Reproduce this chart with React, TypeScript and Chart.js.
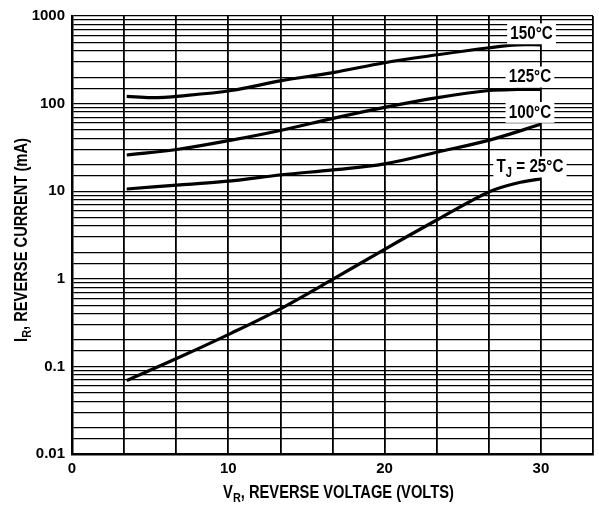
import React, { useEffect, useRef } from "react";
import { Chart, registerables } from "chart.js";

Chart.register(...registerables);

// X axis (reverse voltage, volts)
const xTickLabels = [0, 10, 20, 30];
const xGridDivisions = 10; // vertical grid lines every 10/3 V
const xMax = 100 / 3;

// Y axis (reverse current, mA), logarithmic
const yTickLabels = ["0.01", "0.1", "1", "10", "100", "1000"];
const yDecades = [0.01, 0.1, 1, 10, 100];
const yMantissas = [1, 1.5, 2, 3, 4, 5, 6, 7, 8, 9];

// Curves
const vr150 = [3.5, 5.1, 6.9, 10.2, 13.4, 16.7, 20.0, 23.4, 26.7, 28.5, 30];
const ir150 = [121, 117, 122, 141, 183, 226, 293, 361, 434, 469, 469];

const vr125 = [3.5, 6.9, 10.2, 13.4, 16.7, 20.0, 23.4, 26.7, 28.5, 30];
const ir125 = [25.9, 30.3, 38.3, 49.7, 67.9, 90.6, 117, 141, 145, 145];

const vr100 = [3.5, 6.9, 10.2, 13.4, 16.7, 20.0, 23.4, 26.7, 30];
const ir100 = [10.6, 11.8, 13.1, 15.4, 17.5, 20.5, 28, 38.3, 58];

const vr25 = [3.5, 6.9, 10.2, 13.4, 16.7, 20.0, 23.4, 26.7, 28.5, 30];
const ir25 = [0.069, 0.128, 0.24, 0.46, 0.99, 2.17, 4.75, 9.84, 12.4, 13.8];

// Curve labels (text, subscript part, anchor in data units)
const curveLabelParts = [
  [{ t: "150°C" }],
  [{ t: "125°C" }],
  [{ t: "100°C" }],
  [{ t: "T" }, { t: "J", sub: true }, { t: " = 25°C" }],
];
const curveLabelVR = [29.4, 29.3, 29.3, 29.3];
const curveLabelIR = [626, 201, 79.4, 18.9];

const FONT = "'Liberation Sans', Arial, sans-serif";

type Part = { t: string; sub?: boolean };

function drawRich(
  ctx: CanvasRenderingContext2D,
  parts: Part[],
  cx: number,
  cy: number,
  size: number,
  hScale: number,
  box: boolean
) {
  const main = `bold ${size}px ${FONT}`;
  const small = `bold ${Math.round(size * 0.75)}px ${FONT}`;
  let total = 0;
  const widths = parts.map((p) => {
    ctx.font = p.sub ? small : main;
    const w = ctx.measureText(p.t).width;
    total += w;
    return w;
  });
  ctx.save();
  ctx.translate(cx, cy);
  ctx.scale(hScale, 1);
  let x = -total / 2;
  if (box) {
    ctx.fillStyle = "#ffffff";
    ctx.fillRect(x - 4, -size * 0.55, total + 8, size * 1.1);
  }
  ctx.fillStyle = "#000000";
  ctx.textBaseline = "middle";
  ctx.textAlign = "left";
  parts.forEach((p, i) => {
    ctx.font = p.sub ? small : main;
    ctx.fillText(p.t, x, p.sub ? size * 0.3 : 0);
    x += widths[i];
  });
  ctx.restore();
}

const labelsPlugin = {
  id: "curveLabels",
  afterDatasetsDraw(chart: any) {
    const ctx = chart.ctx as CanvasRenderingContext2D;
    const xs = chart.scales.x;
    const ys = chart.scales.y;
    ctx.save();
    curveLabelParts.forEach((parts, i) => {
      drawRich(
        ctx,
        parts,
        xs.getPixelForValue(curveLabelVR[i]),
        ys.getPixelForValue(curveLabelIR[i]),
        19,
        0.8,
        true
      );
    });
    // axis titles
    const ca = chart.chartArea;
    drawRich(
      ctx,
      [{ t: "V" }, { t: "R", sub: true }, { t: ", REVERSE VOLTAGE (VOLTS)" }],
      (ca.left + ca.right) / 2 + 6,
      ca.bottom + 39,
      17.5,
      0.84,
      false
    );
    ctx.translate(22, (ca.top + ca.bottom) / 2 + 5);
    ctx.rotate(-Math.PI / 2);
    drawRich(
      ctx,
      [{ t: "I" }, { t: "R", sub: true }, { t: ", REVERSE CURRENT (mA)" }],
      0,
      0,
      17.5,
      0.84,
      false
    );
    ctx.restore();
  },
};

function pts(xs: number[], ys: number[]) {
  return xs.map((x, i) => ({ x, y: ys[i] }));
}

export default function App() {
  const ref = useRef<HTMLCanvasElement>(null);
  useEffect(() => {
    document.body.style.margin = "0";
    const ds = (data: { x: number; y: number }[]) => ({
      data,
      borderColor: "#000",
      borderWidth: 3.2,
      pointRadius: 0,
      fill: false,
      tension: 0.35,
    });
    const yGrid: number[] = [];
    yDecades.forEach((d) => yMantissas.forEach((m) => yGrid.push(+(d * m).toPrecision(3))));
    yGrid.push(1000);
    const chart = new Chart(ref.current!, {
      type: "line",
      data: {
        datasets: [
          ds(pts(vr150, ir150)),
          ds(pts(vr125, ir125)),
          ds(pts(vr100, ir100)),
          ds(pts(vr25, ir25)),
        ],
      },
      options: {
        animation: false,
        responsive: true,
        maintainAspectRatio: false,
        layout: { padding: { top: 13, right: 2, left: 0, bottom: 0 } },
        plugins: { legend: { display: false }, tooltip: { enabled: false } },
        scales: {
          x: {
            type: "linear",
            min: 0,
            max: xMax,
            afterBuildTicks: (s: any) => {
              const t = [];
              for (let k = 0; k <= xGridDivisions; k++) t.push({ value: (k * xMax) / xGridDivisions });
              s.ticks = t;
            },
            afterFit: (s: any) => {
              s.height = 52;
            },
            ticks: {
              autoSkip: false,
              maxRotation: 0,
              padding: 6,
              color: "#000",
              font: { family: FONT, size: 15, weight: "bold" },
              callback: (v: any) => {
                const hit = xTickLabels.find((l) => Math.abs(l - v) < 1e-6);
                return hit === undefined ? "" : String(hit);
              },
            },
            grid: { color: "#000", lineWidth: 1.8, drawTicks: false },
            border: { color: "#000", width: 2.5 },
          },
          y: {
            type: "logarithmic",
            min: 0.01,
            max: 1000,
            afterBuildTicks: (s: any) => {
              s.ticks = yGrid.map((v) => ({ value: v }));
            },
            afterFit: (s: any) => {
              s.width = 72;
            },
            ticks: {
              autoSkip: false,
              padding: 7,
              color: "#000",
              font: { family: FONT, size: 15, weight: "bold" },
              callback: (v: any) => {
                const hit = yTickLabels.find((l) => Math.abs(parseFloat(l) - v) < 1e-9);
                return hit === undefined ? "" : hit;
              },
            },
            grid: { color: "#000", lineWidth: 1.3, drawTicks: false },
            border: { color: "#000", width: 2.5 },
          },
        },
      },
      plugins: [labelsPlugin],
    });
    return () => chart.destroy();
  }, []);
  return (
    <div style={{ width: 599, height: 506, position: "relative" }}>
      <canvas ref={ref} />
    </div>
  );
}
